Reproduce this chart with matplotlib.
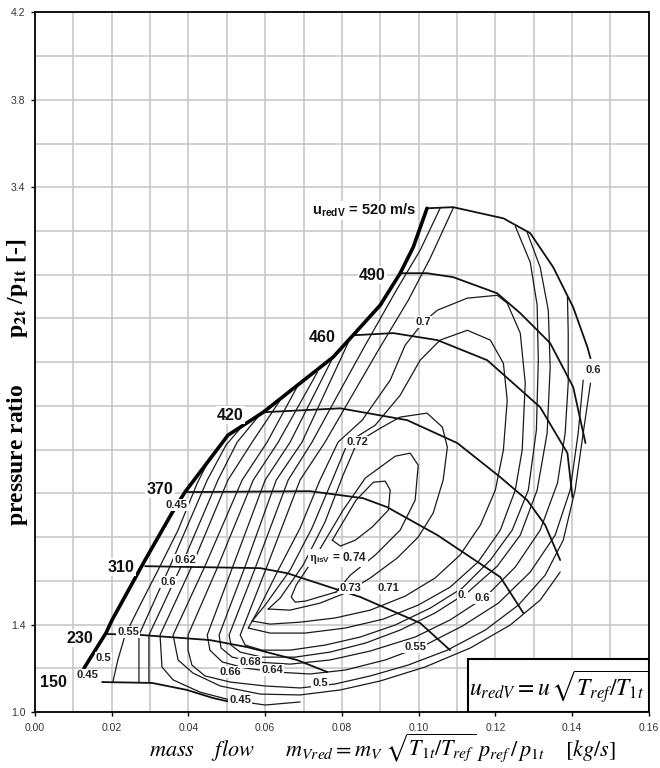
import matplotlib
matplotlib.use('Agg')
import matplotlib.pyplot as plt
from matplotlib.patches import Rectangle

plt.rcParams['mathtext.fontset'] = 'stix'
plt.rcParams['font.family'] = ['Liberation Sans', 'DejaVu Sans']

# surge line (thick)
surge = [(0.0128, 1.201), (0.0185, 1.361), (0.0201, 1.421), (0.0287, 1.695), (0.0357, 1.910),
         (0.0391, 2.006), (0.0503, 2.266), (0.0595, 2.371), (0.0777, 2.623), (0.0829, 2.723),
         (0.0900, 2.861), (0.0952, 3.007), (0.0986, 3.126), (0.1022, 3.304)]

# speed lines u_redV [m/s]
u150 = [(0.0175, 1.137), (0.0305, 1.133), (0.0396, 1.101), (0.0464, 1.064), (0.0522, 1.041)]
u230 = [(0.0185, 1.357), (0.0279, 1.352), (0.0456, 1.329), (0.0553, 1.297), (0.0683, 1.238), (0.0762, 1.183)]
u310 = [(0.0287, 1.667), (0.0587, 1.658), (0.0657, 1.635), (0.0769, 1.571), (0.0848, 1.526),
        (0.1004, 1.407), (0.1082, 1.283)]
u370 = [(0.0391, 2.006), (0.0717, 2.010), (0.0855, 1.978), (0.0918, 1.937), (0.1049, 1.809),
        (0.1213, 1.617), (0.1273, 1.453)]
u420 = [(0.0595, 2.371), (0.0796, 2.389), (0.0970, 2.335), (0.1101, 2.230), (0.1213, 2.074),
        (0.1283, 1.969), (0.1330, 1.855), (0.1369, 1.695)]
u460 = [(0.0829, 2.723), (0.0934, 2.733), (0.1049, 2.701), (0.1179, 2.609), (0.1317, 2.394),
        (0.1388, 2.184), (0.1401, 1.983)]
u490 = [(0.0952, 3.007), (0.1022, 3.007), (0.1090, 2.989), (0.1205, 2.915), (0.1265, 2.824),
        (0.1343, 2.687), (0.1403, 2.486), (0.1435, 2.230)]
u520 = [(0.1022, 3.304), (0.1090, 3.309), (0.1221, 3.258), (0.1291, 3.190), (0.1351, 3.034),
        (0.1403, 2.851), (0.1440, 2.669), (0.1448, 2.618)]

# isentropic efficiency lines
eta1 = [(0.0456, 2.161), (0.0423, 2.047), (0.0373, 1.832), (0.0326, 1.667), (0.0274, 1.489),
        (0.0235, 1.352), (0.0216, 1.238), (0.0203, 1.137)]
eta2 = [(0.0540, 2.307), (0.0498, 2.221), (0.0449, 2.061), (0.0352, 1.667), (0.0271, 1.352), (0.0271, 1.137)]
eta3 = [(0.0587, 2.362), (0.0527, 2.234), (0.0477, 2.061), (0.0381, 1.667), (0.0297, 1.352), (0.0297, 1.137)]
eta4 = [(0.0639, 2.426), (0.0566, 2.234), (0.0503, 2.061), (0.0409, 1.667), (0.0326, 1.352),
        (0.0331, 1.206), (0.0360, 1.147), (0.0430, 1.091), (0.0509, 1.055), (0.0600, 1.032), (0.0691, 1.046)]
eta5 = [(0.0683, 2.486), (0.0605, 2.234), (0.0540, 2.061), (0.0443, 1.667), (0.0360, 1.352),
        (0.0373, 1.238), (0.0412, 1.178), (0.0483, 1.119), (0.0587, 1.082), (0.0691, 1.078),
        (0.0796, 1.101), (0.0900, 1.142), (0.1017, 1.206), (0.1135, 1.293), (0.1239, 1.398),
        (0.1317, 1.512), (0.1369, 1.640)]
eta6 = [(0.0736, 2.554), (0.0634, 2.234), (0.0569, 2.061), (0.0477, 1.667), (0.0399, 1.352),
        (0.0399, 1.283), (0.0409, 1.215), (0.0443, 1.165), (0.0509, 1.137), (0.0600, 1.119),
        (0.0691, 1.110), (0.0782, 1.128), (0.0874, 1.165), (0.0973, 1.215), (0.1075, 1.283),
        (0.1174, 1.375), (0.1260, 1.489), (0.1330, 1.626), (0.1377, 1.786), (0.1408, 2.015),
        (0.1429, 2.275), (0.1448, 2.504)]
eta7 = [(0.0777, 2.623), (0.0665, 2.234), (0.0600, 2.061), (0.0516, 1.667), (0.0449, 1.352),
        (0.0456, 1.283), (0.0488, 1.229), (0.0548, 1.201), (0.0626, 1.183), (0.0717, 1.174),
        (0.0809, 1.192), (0.0913, 1.238), (0.1017, 1.306), (0.1114, 1.393), (0.1208, 1.498),
        (0.1291, 1.640), (0.1356, 1.809), (0.1395, 2.015), (0.1416, 2.275), (0.1429, 2.518)]
eta8 = [(0.0822, 2.710), (0.0696, 2.234), (0.0629, 2.061), (0.0548, 1.667), (0.0480, 1.352),
        (0.0485, 1.293), (0.0514, 1.251), (0.0574, 1.229), (0.0665, 1.219), (0.0769, 1.238),
        (0.0874, 1.279), (0.0991, 1.343), (0.1082, 1.421), (0.1174, 1.526), (0.1252, 1.663),
        (0.1317, 1.832), (0.1362, 2.047), (0.1382, 2.275), (0.1390, 2.504), (0.1390, 2.733),
        (0.1388, 2.902)]
eta9 = [(0.1056, 3.304), (0.1004, 3.112), (0.0939, 2.920), (0.0861, 2.678), (0.0796, 2.472),
        (0.0722, 2.234), (0.0660, 2.061), (0.0576, 1.667), (0.0506, 1.352), (0.0511, 1.306),
        (0.0535, 1.274), (0.0592, 1.251), (0.0678, 1.251), (0.0769, 1.274), (0.0861, 1.315),
        (0.0952, 1.375), (0.1043, 1.453), (0.1129, 1.549), (0.1205, 1.667), (0.1265, 1.809),
        (0.1309, 2.015), (0.1335, 2.275), (0.1343, 2.577), (0.1338, 2.838), (0.1317, 3.034),
        (0.1283, 3.194)]
eta10 = [(0.1090, 3.304), (0.1030, 3.075), (0.0973, 2.883), (0.0895, 2.655), (0.0827, 2.449),
         (0.0756, 2.234), (0.0691, 2.061), (0.0605, 1.667), (0.0535, 1.352), (0.0548, 1.306),
         (0.0592, 1.283), (0.0665, 1.283), (0.0756, 1.306), (0.0848, 1.343), (0.0939, 1.398),
         (0.1030, 1.475), (0.1114, 1.567), (0.1187, 1.695), (0.1244, 1.832), (0.1286, 2.015),
         (0.1307, 2.289), (0.1312, 2.609), (0.1309, 2.861), (0.1291, 3.057), (0.1252, 3.222)]
eta70 = [(0.0556, 1.384), (0.0582, 1.466), (0.0634, 1.649), (0.0691, 1.841), (0.0743, 2.061),
         (0.0790, 2.234), (0.0853, 2.335), (0.0926, 2.518), (0.0965, 2.678), (0.1012, 2.783),
         (0.1049, 2.838), (0.1127, 2.893), (0.1205, 2.906), (0.1231, 2.870), (0.1265, 2.733),
         (0.1278, 2.504), (0.1270, 2.198), (0.1252, 2.015), (0.1213, 1.832), (0.1155, 1.686),
         (0.1082, 1.571), (0.0999, 1.489), (0.0908, 1.425), (0.0809, 1.384), (0.0704, 1.361),
         (0.0613, 1.361), (0.0556, 1.384)]
eta71 = [(0.0566, 1.416), (0.0600, 1.489), (0.0665, 1.649), (0.0722, 1.841), (0.0775, 2.061),
         (0.0816, 2.234), (0.0887, 2.312), (0.0952, 2.449), (0.1004, 2.609), (0.1056, 2.701),
         (0.1127, 2.746), (0.1187, 2.701), (0.1221, 2.595), (0.1231, 2.426), (0.1221, 2.198),
         (0.1200, 2.015), (0.1161, 1.855), (0.1108, 1.718), (0.1043, 1.613), (0.0965, 1.530),
         (0.0874, 1.466), (0.0782, 1.430), (0.0691, 1.411), (0.0613, 1.402), (0.0566, 1.416)]
eta72 = [(0.0608, 1.471), (0.0639, 1.521), (0.0699, 1.672), (0.0756, 1.869), (0.0803, 2.083),
         (0.0840, 2.234), (0.0900, 2.298), (0.0952, 2.349), (0.1022, 2.367), (0.1062, 2.303),
         (0.1075, 2.211), (0.1064, 2.061), (0.1038, 1.910), (0.0999, 1.800), (0.0944, 1.704),
         (0.0874, 1.613), (0.0809, 1.544), (0.0743, 1.498), (0.0665, 1.466), (0.0608, 1.471)]
eta73 = [(0.0785, 1.549), (0.0704, 1.507), (0.0678, 1.503), (0.0668, 1.526), (0.0681, 1.581),
         (0.0738, 1.731), (0.0803, 1.923), (0.0861, 2.070), (0.0939, 2.170), (0.0978, 2.184),
         (0.0999, 2.129), (0.0991, 1.969), (0.0952, 1.832), (0.0887, 1.718), (0.0822, 1.626),
         (0.0785, 1.549)]
eta74 = [(0.0775, 1.786), (0.0837, 1.969), (0.0882, 2.051), (0.0913, 2.056), (0.0926, 2.015),
         (0.0921, 1.923), (0.0879, 1.846), (0.0835, 1.786), (0.0796, 1.759), (0.0775, 1.786)]

# labels: speed values and efficiency values with their positions
speed_labels = [('150', 0.0047, 1.133), ('230', 0.0117, 1.338), ('310', 0.0224, 1.663),
                ('370', 0.0326, 2.018), ('420', 0.0509, 2.358), ('460', 0.0749, 2.714),
                ('490', 0.0879, 2.998)]
eta_labels = [('0.45', 0.0370, 1.946), ('0.62', 0.0391, 1.695), ('0.6', 0.0347, 1.594),
              ('0.55', 0.0243, 1.366), ('0.5', 0.0178, 1.247), ('0.45', 0.0136, 1.169),
              ('0.66', 0.0509, 1.183), ('0.68', 0.0561, 1.229), ('0.64', 0.0618, 1.192),
              ('0.45', 0.0535, 1.055), ('0.5', 0.0743, 1.133), ('0.55', 0.0991, 1.297),
              ('0.', 0.1114, 1.535), ('0.6', 0.1166, 1.521), ('0.6', 0.1455, 2.563),
              ('0.7', 0.1012, 2.783), ('0.72', 0.0840, 2.234), ('0.73', 0.0822, 1.567),
              ('0.71', 0.0921, 1.567)]

xticks = [0.00, 0.02, 0.04, 0.06, 0.08, 0.10, 0.12, 0.14, 0.16]
yticks = [1.0, 1.4, 3.4, 3.8, 4.2]

fig = plt.figure(figsize=(6.6, 7.68), dpi=100)
ax = fig.add_axes([0.053, 0.0729, 0.930, 0.911])


def draw(pts, lw, color='#1a1a1a'):
    xs, ys = zip(*pts)
    ax.plot(xs, ys, color=color, lw=lw, solid_joinstyle='round', solid_capstyle='round', zorder=3)


for c in [eta1, eta2, eta3, eta4, eta5, eta6, eta7, eta8, eta9, eta10,
          eta70, eta71, eta72, eta73, eta74]:
    draw(c, 0.9)
for c in [u150, u230, u310, u370, u420, u460, u490, u520]:
    draw(c, 1.3, '#111111')
draw(surge, 2.6, '#000000')

box = dict(boxstyle='square,pad=0.08', fc='white', ec='none')
for t, x, y in speed_labels:
    ax.text(x, y, t, fontsize=11.5, fontweight='bold', ha='center', va='center',
            color='#111111', zorder=5, bbox=box)
ax.text(0.0995, 3.295, r'u$_{\mathregular{redV}}$ = 520 m/s', fontsize=10.5, fontweight='bold',
        ha='right', va='center', color='#111111', zorder=5, bbox=box)
for t, x, y in eta_labels:
    ax.text(x, y, t, fontsize=8, fontweight='bold', ha='center', va='center',
            color='#222222', zorder=5, bbox=box)
ax.text(0.0790, 1.704, r'$\mathbf{\eta}_{\mathregular{isV}}$ = 0.74', fontsize=8.5,
        fontweight='bold', ha='center', va='center', color='#222222', zorder=5, bbox=box)

# formula box
ax.add_patch(Rectangle((0.1129, 1.0), 0.0471, 0.242, fc='white', ec='black', lw=1.5, zorder=6))
ax.text(0.1364, 1.112, r'$u_{redV} = u\,\sqrt{T_{ref}/T_{1t}}$', fontsize=17,
        ha='center', va='center', zorder=7)

ax.set_xlim(0, 0.16)
ax.set_ylim(1.0, 4.2)
ax.set_xticks(xticks)
ax.set_xticklabels(['%.2f' % v for v in xticks])
ax.set_xticks([i * 0.01 for i in range(17)], minor=True)
ax.set_yticks(yticks)
ax.set_yticklabels(['%.1f' % v for v in yticks])
ax.set_yticks([1.0 + i * 0.2 for i in range(17)], minor=True)
ax.grid(which='both', color='#c8c8c8', lw=1.2)
ax.set_axisbelow(True)
ax.tick_params(which='major', labelsize=7.5, labelcolor='#333333', length=3, width=1)
ax.tick_params(axis='x', which='major', pad=5)
ax.tick_params(axis='y', which='major', pad=4)
ax.tick_params(which='minor', length=0)
for s in ax.spines.values():
    s.set_linewidth(1.4)
    s.set_color('#111111')

fig.text(0.58, 0.026, r'$mass\quad\ flow\qquad m_{Vred} = m_V\;\sqrt{T_{1t}/T_{ref}}\;p_{ref}\,/\,p_{1t}\quad\ [kg/s]$',
         fontsize=16, ha='center', va='center')
fig.text(0.026, 0.502, r'pressure ratio        p$_{\mathbf{2t}}$ /p$_{\mathbf{1t}}$ [-]', rotation=90,
         fontsize=17, fontweight='bold', family=['Liberation Serif', 'DejaVu Serif'],
         ha='center', va='center')

fig.savefig('out.png', dpi=100)
